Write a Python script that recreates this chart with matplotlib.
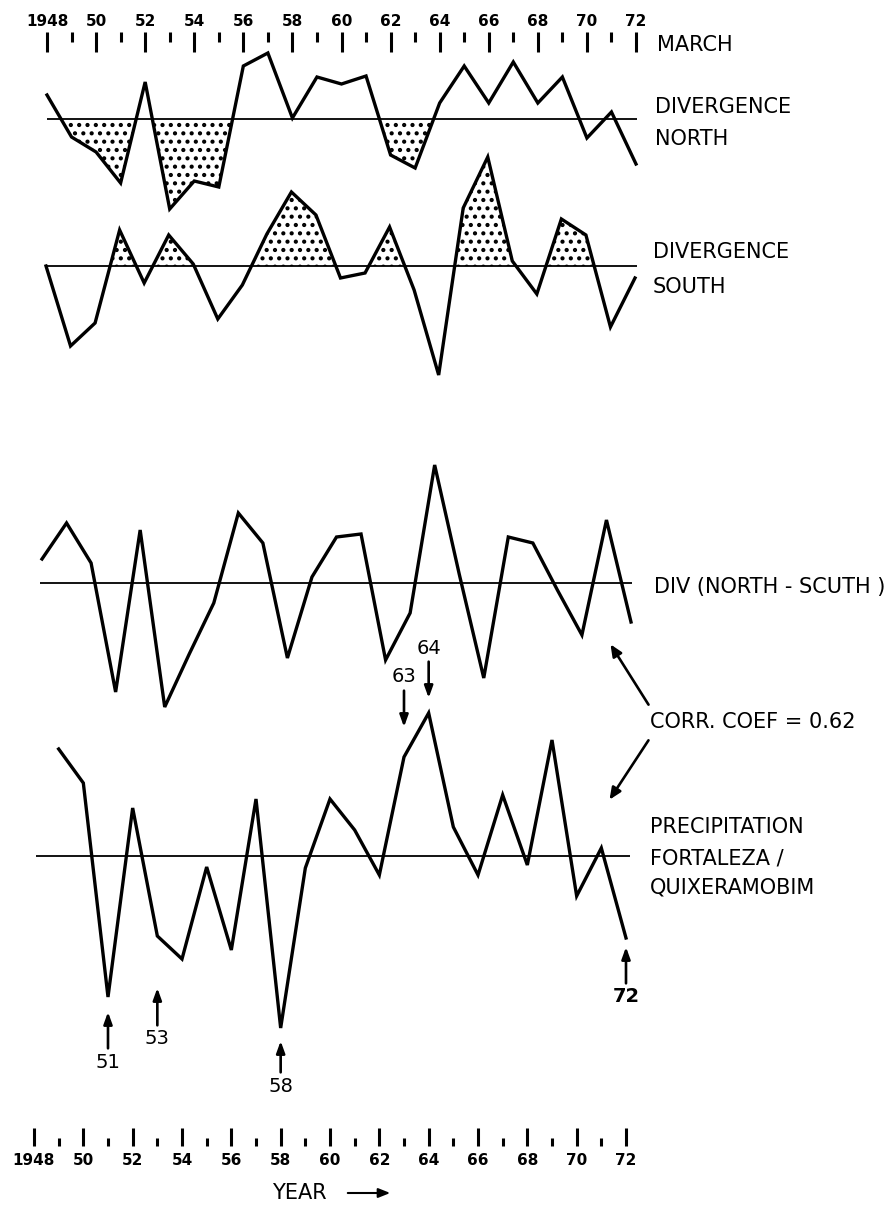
import matplotlib
matplotlib.use("Agg")
import matplotlib.pyplot as plt
import numpy as np

plt.rcParams["font.family"] = ["DejaVu Sans"]
plt.rcParams["hatch.linewidth"] = 1.8

W, H, DPI = 896, 1208, 100

# ---------------- data (arbitrary units) ----------------
years = list(range(1948, 1973))
precip_years = list(range(1949, 1973))

div_north = [24, -18, -33, -64, 37, -90, -62, -68, 53, 66,
             1, 42, 35, 43, -36, -49, 16, 53, 16, 57,
             16, 42, -19, 7, -45]
div_south = [0, -80, -57, 36, -17, 31, 2, -53, -19, 32,
             74, 51, -12, -7, 39, -24, -109, 58, 109, 5,
             -28, 47, 31, -61, -12]
div_diff = [24, 60, 20, -109, 53, -124, -71, -20, 70, 40,
            -75, 6, 46, 49, -77, -30, 118, 9, -95, 46,
            40, -7, -52, 63, -39]
precip = [107, 73, -141, 48, -80, -103, -11, -94, 57, -172,
          -12, 57, 26, -19, 99, 143, 29, -19, 61, -9,
          116, -40, 8, -82]

tick_years_major = list(range(1948, 1973, 2))
tick_years_minor = list(range(1949, 1972, 2))
tick_labels = ["1948"] + [f"{y % 100:02d}" for y in tick_years_major[1:]]

marked_low = {1951: "51", 1953: "53", 1958: "58", 1972: "72"}
marked_high = {1963: "63", 1964: "64"}

# ---------------- helpers ----------------
fig = plt.figure(figsize=(W / DPI, H / DPI), dpi=DPI)
fig.patch.set_facecolor("white")


def xlim_for(px0, px1):
    ppy = (px1 - px0) / 24.0
    return (1948 - px0 / ppy, 1948 + (W - px0) / ppy)


def panel(px0, px1, zero_pix):
    ax = fig.add_axes([0, 0, 1, 1])
    ax.set_xlim(*xlim_for(px0, px1))
    ax.set_ylim(zero_pix - H, zero_pix)
    ax.axis("off")
    ax.patch.set_alpha(0)
    return ax


def fp(x, y):
    return (x / W, 1 - y / H)


LW = 2.4
ZLW = 1.3
TXT = 15

# ---------------- top time axis (MARCH) ----------------
axt = fig.add_axes([0, 1 - 62 / H, 1, 30 / H])
axt.set_xlim(*xlim_for(47, 636))
axt.patch.set_alpha(0)
for s in axt.spines.values():
    s.set_visible(False)
axt.yaxis.set_visible(False)
axt.xaxis.tick_top()
axt.set_xticks(tick_years_major)
axt.set_xticklabels(tick_labels, fontweight="bold")
axt.set_xticks(tick_years_minor, minor=True)
axt.tick_params(which="major", direction="in", length=20 * 0.72, width=2.2, pad=2, labelsize=11)
axt.tick_params(which="minor", direction="in", length=10 * 0.72, width=2.2)
fig.text(*fp(657, 45), "MARCH", ha="left", va="center", fontsize=TXT)

# ---------------- divergence north ----------------
axn = panel(47, 636, 119)
yn = np.array(div_north)
yr = np.array(years)
axn.hlines(0, 1948, 1972.05, color="black", lw=ZLW)
axn.fill_between(yr, yn, 0, where=(yn <= 0) & (yr <= 1964), interpolate=True,
                 facecolor="none", edgecolor="black", hatch="..", linewidth=0)
axn.plot(yr, yn, color="black", lw=LW, solid_joinstyle="miter")
fig.text(*fp(655, 107), "DIVERGENCE", ha="left", va="center", fontsize=TXT)
fig.text(*fp(655, 139), "NORTH", ha="left", va="center", fontsize=TXT)

# ---------------- divergence south ----------------
axs = panel(46, 635, 266)
ys = np.array(div_south)
axs.hlines(0, 1947.95, 1972.08, color="black", lw=ZLW)
axs.fill_between(yr, ys, 0, where=ys >= 0, interpolate=True,
                 facecolor="none", edgecolor="black", hatch="..", linewidth=0)
axs.plot(yr, ys, color="black", lw=LW, solid_joinstyle="miter")
fig.text(*fp(653, 252), "DIVERGENCE", ha="left", va="center", fontsize=TXT)
fig.text(*fp(653, 287), "SOUTH", ha="left", va="center", fontsize=TXT)

# ---------------- DIV (north - south) ----------------
axd = panel(42, 631, 583)
axd.hlines(0, 1947.9, 1972.05, color="black", lw=ZLW)
axd.plot(yr, div_diff, color="black", lw=LW, solid_joinstyle="miter")
fig.text(*fp(654, 587), "DIV (NORTH - SCUTH )", ha="left", va="center", fontsize=TXT)

# ---------------- precipitation ----------------
axp = panel(34, 626, 856)
axp.hlines(0, 1948.1, 1972.15, color="black", lw=ZLW)
axp.plot(precip_years, precip, color="black", lw=LW, solid_joinstyle="miter")
fig.text(*fp(650, 827), "PRECIPITATION", ha="left", va="center", fontsize=TXT)
fig.text(*fp(650, 858), "FORTALEZA /", ha="left", va="center", fontsize=TXT)
fig.text(*fp(650, 888), "QUIXERAMOBIM", ha="left", va="center", fontsize=TXT)

pval = dict(zip(precip_years, precip))
arrow_kw = dict(arrowstyle="-|>,head_length=0.5,head_width=0.18", color="black", lw=1.9)
low_geom = {1951: (15, 65), 1953: (52, 103), 1958: (13, 58), 1972: (9, 59)}
for y, lab in marked_low.items():
    gap, toff = low_geom[y]
    axp.annotate(lab, xy=(y, pval[y]), xytext=(0, -toff), textcoords="offset pixels",
                 ha="center", va="center", fontsize=14, fontweight="bold" if y == 1972 else "normal",
                 arrowprops=dict(shrinkA=1, shrinkB=gap * 0.72, **arrow_kw))
high_geom = {1963: (30, 80), 1964: (15, 65)}
for y, lab in marked_high.items():
    gap, toff = high_geom[y]
    axp.annotate(lab, xy=(y, pval[y]), xytext=(0, toff), textcoords="offset pixels",
                 ha="center", va="center", fontsize=14,
                 arrowprops=dict(shrinkA=1, shrinkB=gap * 0.72, **arrow_kw))

# correlation note
fig.text(*fp(650, 722), "CORR. COEF = 0.62", ha="left", va="center", fontsize=TXT)
for tail, head in [((650, 707), (609, 642)), ((650, 738), (608, 802))]:
    fig.add_artist(matplotlib.patches.FancyArrowPatch(
        fp(*tail), fp(*head), transform=fig.transFigure,
        arrowstyle="-|>,head_length=5,head_width=2.2", color="black", lw=1.9,
        mutation_scale=1.4))

# ---------------- bottom time axis (YEAR) ----------------
axb = fig.add_axes([0, 1 - 1146 / H, 1, 30 / H])
axb.set_xlim(*xlim_for(34, 626))
axb.patch.set_alpha(0)
for s in axb.spines.values():
    s.set_visible(False)
axb.yaxis.set_visible(False)
axb.set_xticks(tick_years_major)
axb.set_xticklabels(tick_labels, fontweight="bold")
axb.set_xticks(tick_years_minor, minor=True)
axb.tick_params(which="major", direction="in", length=18 * 0.72, width=2.2, pad=5, labelsize=11)
axb.tick_params(which="minor", direction="in", length=8 * 0.72, width=2.2)
fig.text(*fp(272, 1193), "YEAR", ha="left", va="center", fontsize=TXT)
fig.add_artist(matplotlib.patches.FancyArrowPatch(
    fp(345, 1193), fp(393, 1193), transform=fig.transFigure,
    arrowstyle="-|>,head_length=5,head_width=2", color="black", lw=1.5, mutation_scale=1.4))

fig.savefig("out.png", dpi=DPI, facecolor="white")
